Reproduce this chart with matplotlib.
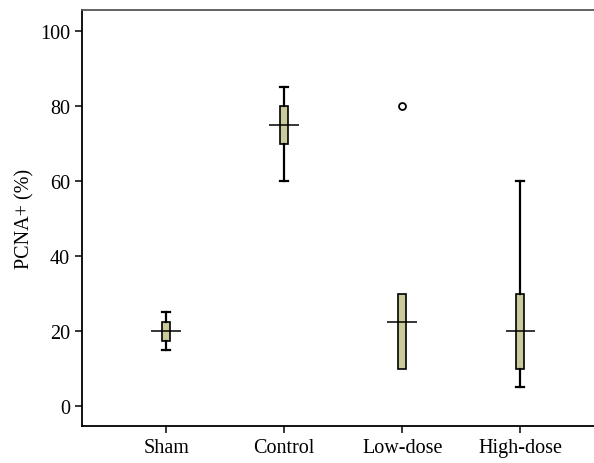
import matplotlib.pyplot as plt
import numpy as np

plt.rcParams['font.family'] = ['Liberation Serif', 'DejaVu Serif']

groups = ['Sham', 'Control', 'Low-dose', 'High-dose']
q1 = [17.5, 70, 10, 10]
med = [20, 75, 22.5, 20]
q3 = [22.5, 80, 30, 30]
whislo = [15, 60, 10, 5]
whishi = [25, 85, 30, 60]
fliers = [[], [], [80], []]

pos = np.arange(1, len(groups) + 1)

stats = []
for i in range(len(groups)):
    stats.append(dict(med=med[i], q1=q1[i], q3=q3[i], whislo=whislo[i],
                      whishi=whishi[i], fliers=fliers[i], label=groups[i]))

# no caps where the whiskers collapse onto the box
caps = [0.07 if whislo[i] < q1[i] or whishi[i] > q3[i] else 0.0
        for i in range(len(groups))]

fig = plt.figure(figsize=(5.94, 4.64), dpi=100)
ax = fig.add_axes([0.138, 0.0797, 0.865, 0.8963])

ax.bxp(stats, positions=pos, widths=0.068, patch_artist=True,
       boxprops=dict(facecolor='#cbca9b', edgecolor='black', linewidth=1.2),
       whiskerprops=dict(color='black', linewidth=1.6),
       capprops=dict(color='black', linewidth=1.6),
       medianprops=dict(linewidth=0),
       flierprops=dict(marker='o', markersize=5, markerfacecolor='white',
                       markeredgecolor='black', markeredgewidth=1.3),
       capwidths=caps)
ax.hlines(med, pos - 0.125, pos + 0.125, color='black', linewidth=1.1, zorder=5)

ax.set_xlim(0.286, 4.64)
ax.set_ylim(-5.3, 105.6)
ax.set_yticks([0, 20, 40, 60, 80, 100])
ax.set_xticks(pos)
ax.set_xticklabels(groups)
ax.set_ylabel('PCNA+ (%)', fontsize=14.5, labelpad=4)
ax.tick_params(labelsize=14.5, length=5, width=1.1, direction='out')

ax.spines['right'].set_visible(False)
ax.spines['top'].set_color('#555555')
for s in ['left', 'bottom', 'top']:
    ax.spines[s].set_linewidth(1.3)

fig.savefig('out.png', dpi=100)
